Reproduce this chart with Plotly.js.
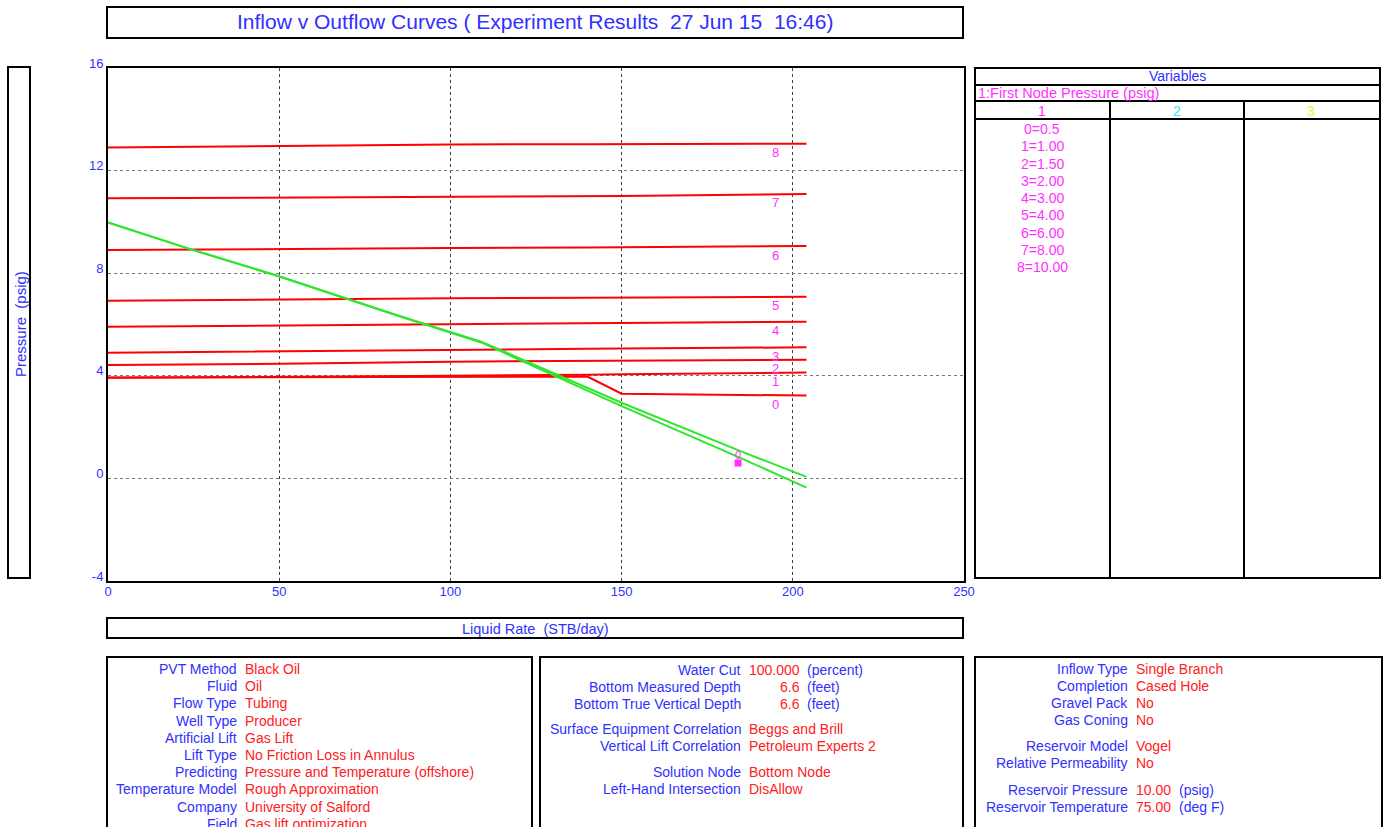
<!DOCTYPE html>
<html>
<head>
<meta charset="utf-8">
<script src="https://cdn.plot.ly/plotly-3.0.1.min.js"></script>
<style>
html,body{margin:0;padding:0;background:#fff;}
#chart{width:1389px;height:827px;}
</style>
</head>
<body>
<div id="chart"></div>
<script>
// ---------------- DATA ----------------
const liquidRate = [0, 50, 100, 140, 150, 204];           // STB/day
const outflow0 = [3.93, 3.95, 3.97, 3.97, 3.30, 3.23];
const outflow1 = [3.92, 3.95, 4.00, 4.04, 4.06, 4.13];
const outflow2 = [4.42, 4.47, 4.55, 4.57, 4.58, 4.63];
const outflow3 = [4.90, 4.96, 5.03, 5.05, 5.06, 5.11];
const outflow4 = [5.91, 5.96, 6.00, 6.04, 6.06, 6.11];
const outflow5 = [6.93, 6.98, 7.02, 7.04, 7.05, 7.08];
const outflow6 = [8.90, 8.95, 8.98, 9.00, 9.01, 9.06];
const outflow7 = [10.92, 10.95, 10.98, 11.00, 11.01, 11.09];
const outflow8 = [12.90, 12.96, 13.02, 13.03, 13.03, 13.05];
const outflowCurves = [outflow0, outflow1, outflow2, outflow3, outflow4, outflow5, outflow6, outflow7, outflow8];

const inflowRate = [0, 24, 49, 70, 85, 109, 130, 150, 184, 204];
const inflowA = [9.98, 8.94, 7.92, 6.99, 6.33, 5.33, 4.10, 2.95, 1.10, 0.06];
const inflowB = [9.98, 8.94, 7.92, 6.99, 6.33, 5.30, 4.03, 2.82, 0.84, -0.36];

const solutionRate = [184];
const solutionPressure = [0.6];

const curveLabelRate = 195;

const firstNodePressures = ['0.5', '1.00', '1.50', '2.00', '3.00', '4.00', '6.00', '8.00', '10.00'];

const xTicks = [0, 50, 100, 150, 200, 250];
const yTicks = [-4, 0, 4, 8, 12, 16];

const box1Labels = ['PVT Method', 'Fluid', 'Flow Type', 'Well Type', 'Artificial Lift', 'Lift Type', 'Predicting', 'Temperature Model', 'Company', 'Field'];
const box1Values = ['Black Oil', 'Oil', 'Tubing', 'Producer', 'Gas Lift', 'No Friction Loss in Annulus', 'Pressure and Temperature (offshore)', 'Rough Approximation', 'University of Salford', 'Gas lift optimization'];

const box2Labels = ['Water Cut', 'Bottom Measured Depth', 'Bottom True Vertical Depth', 'Surface Equipment Correlation', 'Vertical Lift Correlation', 'Solution Node', 'Left-Hand Intersection'];
const box2Values = ['100.000', '6.6', '6.6', 'Beggs and Brill', 'Petroleum Experts 2', 'Bottom Node', 'DisAllow'];
const box2Units = ['(percent)', '(feet)', '(feet)', '', '', '', ''];

const box3Labels = ['Inflow Type', 'Completion', 'Gravel Pack', 'Gas Coning', 'Reservoir Model', 'Relative Permeability', 'Reservoir Pressure', 'Reservoir Temperature'];
const box3Values = ['Single Branch', 'Cased Hole', 'No', 'No', 'Vogel', 'No', '10.00', '75.00'];
const box3Units = ['', '', '', '', '', '', '(psig)', '(deg F)'];

// ---------------- STYLE / LAYOUT ----------------
const FONT = 'Liberation Sans, Arial, sans-serif';
const BLUE = '#3030ff';
const RED = '#ff2020';
const MAG = '#ff30ff';
const FS = 14;

const PL = 108, PR = 964, PT = 68, PB = 581;
const fx = p => (p - PL) / (PR - PL);
const fy = p => (PB - p) / (PB - PT);

const traces = [];
outflowCurves.forEach((c, i) => {
  traces.push({x: liquidRate, y: c, type: 'scatter', mode: 'lines',
    line: {color: '#ff0000', width: 2}, hoverinfo: 'skip', showlegend: false});
});
traces.push({x: inflowRate, y: inflowA, type: 'scatter', mode: 'lines',
  line: {color: '#2ee62e', width: 2}, showlegend: false});
traces.push({x: inflowRate, y: inflowB, type: 'scatter', mode: 'lines',
  line: {color: '#2ee62e', width: 2}, showlegend: false});
traces.push({x: solutionRate, y: solutionPressure, type: 'scatter', mode: 'markers',
  marker: {symbol: 'square', size: 7, color: MAG, line: {width: 0}}, showlegend: false});

const shapes = [];
const rect = (x0, y0, x1, y1) => shapes.push({type: 'rect', xref: 'paper', yref: 'paper',
  x0: fx(x0), x1: fx(x1), y0: fy(y1), y1: fy(y0), line: {color: '#000', width: 2}, layer: 'above'});
const hline = (x0, x1, y) => shapes.push({type: 'line', xref: 'paper', yref: 'paper',
  x0: fx(x0), x1: fx(x1), y0: fy(y), y1: fy(y), line: {color: '#000', width: 2}});
const vline = (x, y0, y1) => shapes.push({type: 'line', xref: 'paper', yref: 'paper',
  x0: fx(x), x1: fx(x), y0: fy(y0), y1: fy(y1), line: {color: '#000', width: 2}});

rect(107, 7, 963, 38);      // title box
rect(8, 67, 30, 578);       // y title box
rect(107, 618, 963, 638);   // x title box
rect(975, 68, 1380, 578);   // variables box
hline(975, 1380, 85);
hline(975, 1380, 101);
hline(975, 1380, 119);
vline(1110, 101, 578);
vline(1244, 101, 578);
rect(107, 657, 532, 840);
rect(540, 657, 963, 840);
rect(975, 657, 1382, 840);

const ann = [];
const txt = (x, y, text, color, anchor, size, extra) => ann.push(Object.assign({
  xref: 'paper', yref: 'paper', x: fx(x), y: fy(y), text: text, showarrow: false,
  xanchor: anchor, yanchor: 'middle', font: {family: FONT, size: size || FS, color: color},
  borderpad: 0}, extra || {}));

txt(535, 22, 'Inflow v Outflow Curves ( Experiment Results  27 Jun 15  16:46)', BLUE, 'center', 21);
txt(20, 324, 'Pressure  (psig)', BLUE, 'center', 15, {textangle: -90});
txt(535, 629, 'Liquid Rate  (STB/day)', BLUE, 'center', 14.5);

// variables table
txt(1177, 76, 'Variables', BLUE, 'center', 14);
txt(977, 93, '1:First Node Pressure (psig)', MAG, 'left', 14.5);
txt(1042, 111, '1', MAG, 'center', 14);
txt(1177, 111, '2', '#30e8f0', 'center', 14);
txt(1311, 111, '3', '#f0f030', 'center', 14);
firstNodePressures.forEach((v, i) => txt(1042, 129 + i * 17.25, i + '=' + v, MAG, 'center', 14));

// curve labels
outflowCurves.forEach((c, i) => ann.push({xref: 'x', yref: 'y', x: curveLabelRate, y: c[c.length - 1],
  yshift: -9, text: String(i), showarrow: false, xanchor: 'center', yanchor: 'middle',
  font: {family: FONT, size: 13, color: MAG}}));
ann.push({xref: 'x', yref: 'y', x: solutionRate[0], y: solutionPressure[0], yshift: 8, text: '0',
  showarrow: false, font: {family: FONT, size: 11, color: MAG}});

// bottom boxes
box1Labels.forEach((l, i) => {
  txt(238, 669 + i * 17.2, l, BLUE, 'right');
  txt(244, 669 + i * 17.2, box1Values[i], RED, 'left');
});
const box2Y = [670, 687, 704, 729, 746, 772, 789];
box2Labels.forEach((l, i) => {
  txt(742, box2Y[i], l, BLUE, 'right');
  if (box2Units[i]) {
    txt(801, box2Y[i], box2Values[i], RED, 'right');
    txt(806, box2Y[i], box2Units[i], BLUE, 'left');
  } else {
    txt(748, box2Y[i], box2Values[i], RED, 'left');
  }
});
const box3Y = [669, 686, 703, 720, 746, 763, 790, 807];
box3Labels.forEach((l, i) => {
  txt(1129, box3Y[i], l, BLUE, 'right');
  txt(1135, box3Y[i], box3Values[i], RED, 'left');
  if (box3Units[i]) txt(1178, box3Y[i], box3Units[i], BLUE, 'left');
});

const layout = {
  width: 1389, height: 827,
  margin: {l: PL, r: 1389 - PR, t: PT, b: 827 - PB, pad: 0},
  paper_bgcolor: '#fff', plot_bgcolor: '#fff',
  font: {family: FONT, color: BLUE, size: 13},
  showlegend: false,
  xaxis: {range: [0, 250], tickvals: xTicks, ticktext: xTicks.map(String), ticks: '',
    showgrid: true, gridcolor: '#444', griddash: 'dot', gridwidth: 1, zeroline: false,
    showline: true, mirror: true, linecolor: '#000', linewidth: 2, ticklabelstandoff: -3,
    tickfont: {family: FONT, size: 13, color: BLUE}, fixedrange: true},
  yaxis: {range: [-4, 16], tickvals: yTicks, ticktext: yTicks.map(String), ticks: '',
    showgrid: true, gridcolor: '#777', griddash: 'dot', gridwidth: 1, zeroline: false,
    showline: true, mirror: true, linecolor: '#000', linewidth: 2, ticklabelshift: -5,
    tickfont: {family: FONT, size: 13, color: BLUE}, fixedrange: true},
  shapes: shapes,
  annotations: ann
};

Plotly.newPlot('chart', traces, layout, {displayModeBar: false, staticPlot: true});
</script>
</body>
</html>
